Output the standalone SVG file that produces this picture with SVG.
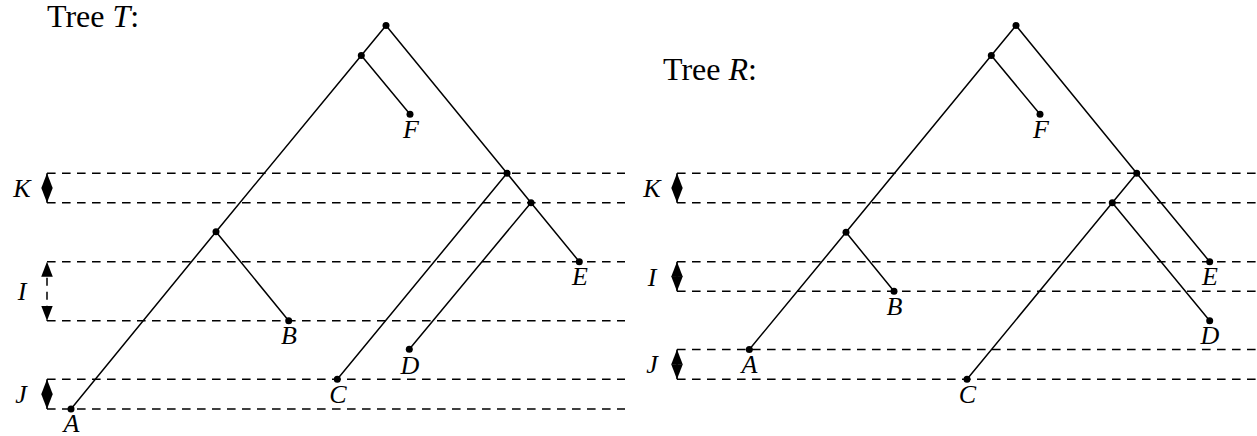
<svg xmlns="http://www.w3.org/2000/svg" width="1257" height="436" viewBox="0 0 1257 436">
<style>
.dash{stroke:#000;stroke-width:1.5;stroke-dasharray:8.6 6.4;fill:none}
.edge{stroke:#000;stroke-width:1.5;fill:none}
.lbl{font-family:"Liberation Serif",serif;font-style:italic;font-size:26px;text-anchor:middle;fill:#000}
.title{font-family:"Liberation Serif",serif;font-size:32px;fill:#000}
.dot{fill:#000}
.arr{stroke:#000;stroke-width:1.5;fill:none;marker-start:url(#head);marker-end:url(#head)}
</style>
<defs>
<marker id="head" viewBox="0 0 15 12" refX="15" refY="6" markerWidth="15" markerHeight="12" markerUnits="userSpaceOnUse" orient="auto-start-reverse">
<path d="M0,0.2 L15,6 L0,11.8 Z" fill="#000"/>
</marker>
</defs>
<rect width="1257" height="436" fill="#fff"/>
<text class="title" x="47" y="27">Tree <tspan font-style="italic">T</tspan>:</text>
<text class="title" x="663" y="79.5">Tree <tspan font-style="italic">R</tspan>:</text>
<g id="guides-left">
<line class="dash" x1="47" y1="173.3" x2="625" y2="173.3"/>
<line class="dash" x1="47" y1="202.7" x2="625" y2="202.7"/>
<line class="dash" x1="47" y1="261.7" x2="625" y2="261.7"/>
<line class="dash" x1="47" y1="320.7" x2="625" y2="320.7"/>
<line class="dash" x1="47" y1="379.3" x2="625" y2="379.3"/>
<line class="dash" x1="47" y1="409" x2="625" y2="409"/>
<line class="arr" x1="47" y1="173.3" x2="47" y2="202.7"/>
<line class="arr" x1="47" y1="261.7" x2="47" y2="320.7" stroke-dasharray="8 6" stroke-dashoffset="-2"/>
<line class="arr" x1="47" y1="379.3" x2="47" y2="409"/>
<text class="lbl" x="22" y="197">K</text>
<text class="lbl" x="22" y="300">I</text>
<text class="lbl" x="21" y="403">J</text>
</g>
<g id="guides-right">
<line class="dash" x1="677" y1="173.3" x2="1257" y2="173.3"/>
<line class="dash" x1="677" y1="202.7" x2="1257" y2="202.7"/>
<line class="dash" x1="677" y1="261.7" x2="1257" y2="261.7"/>
<line class="dash" x1="677" y1="291.3" x2="1257" y2="291.3"/>
<line class="dash" x1="677" y1="349.5" x2="1257" y2="349.5"/>
<line class="dash" x1="677" y1="379.3" x2="1257" y2="379.3"/>
<line class="arr" x1="677" y1="173.3" x2="677" y2="202.7"/>
<line class="arr" x1="677" y1="261.7" x2="677" y2="291.3"/>
<line class="arr" x1="677" y1="349.5" x2="677" y2="379.3"/>
<text class="lbl" x="652" y="197">K</text>
<text class="lbl" x="652" y="285.5">I</text>
<text class="lbl" x="652" y="373">J</text>
</g>
<g id="connectors">
<path class="edge" d="M386,25.5 L361.3,55.5 L216,231.7 L71,409 M361.3,55.5 L410,114.3 M386,25.5 L507,173.3 L337.3,379.3 M507,173.3 L531,202.7 L579.3,261.7 M531,202.7 L409.3,349.3 M216,231.7 L288.7,320.7"/>
<path class="edge" d="M1016,25.5 L991.3,55.5 L846,232.3 L749.3,349.5 M991.3,55.5 L1040,114.3 M1016,25.5 L1136.7,173.3 L1209.7,261.7 M1136.7,173.3 L1112.3,202.7 L967,379.3 M1112.3,202.7 L1209.7,320.7 M846,232.3 L894,291.3"/>
</g>
<g id="T-root"><circle class="dot" cx="386" cy="25.5" r="3.5"/></g>
<g id="T-n1"><circle class="dot" cx="361.3" cy="55.5" r="3.5"/></g>
<g id="T-F"><circle class="dot" cx="410" cy="114.3" r="3.5"/><text class="lbl" x="411" y="137.5">F</text></g>
<g id="T-n2"><circle class="dot" cx="507" cy="173.3" r="3.5"/></g>
<g id="T-n3"><circle class="dot" cx="531" cy="202.7" r="3.5"/></g>
<g id="T-E"><circle class="dot" cx="579.3" cy="261.7" r="3.5"/><text class="lbl" x="580" y="285">E</text></g>
<g id="T-n4"><circle class="dot" cx="216" cy="231.7" r="3.5"/></g>
<g id="T-B"><circle class="dot" cx="288.7" cy="320.7" r="3.5"/><text class="lbl" x="289" y="344">B</text></g>
<g id="T-D"><circle class="dot" cx="409.3" cy="349.3" r="3.5"/><text class="lbl" x="410" y="373.5">D</text></g>
<g id="T-C"><circle class="dot" cx="337.3" cy="379.3" r="3.5"/><text class="lbl" x="338" y="402.5">C</text></g>
<g id="T-A"><circle class="dot" cx="71" cy="409" r="3.5"/><text class="lbl" x="71.5" y="432">A</text></g>
<g id="R-root"><circle class="dot" cx="1016" cy="25.5" r="3.5"/></g>
<g id="R-n1"><circle class="dot" cx="991.3" cy="55.5" r="3.5"/></g>
<g id="R-F"><circle class="dot" cx="1040" cy="114.3" r="3.5"/><text class="lbl" x="1041" y="137.5">F</text></g>
<g id="R-n2"><circle class="dot" cx="1136.7" cy="173.3" r="3.5"/></g>
<g id="R-n3"><circle class="dot" cx="1112.3" cy="202.7" r="3.5"/></g>
<g id="R-E"><circle class="dot" cx="1209.7" cy="261.7" r="3.5"/><text class="lbl" x="1210" y="285">E</text></g>
<g id="R-D"><circle class="dot" cx="1209.7" cy="320.7" r="3.5"/><text class="lbl" x="1210" y="344">D</text></g>
<g id="R-n4"><circle class="dot" cx="846" cy="232.3" r="3.5"/></g>
<g id="R-B"><circle class="dot" cx="894" cy="291.3" r="3.5"/><text class="lbl" x="894.5" y="314.5">B</text></g>
<g id="R-A"><circle class="dot" cx="749.3" cy="349.5" r="3.5"/><text class="lbl" x="749.5" y="373">A</text></g>
<g id="R-C"><circle class="dot" cx="967" cy="379.3" r="3.5"/><text class="lbl" x="967.5" y="402.5">C</text></g>
</svg>
